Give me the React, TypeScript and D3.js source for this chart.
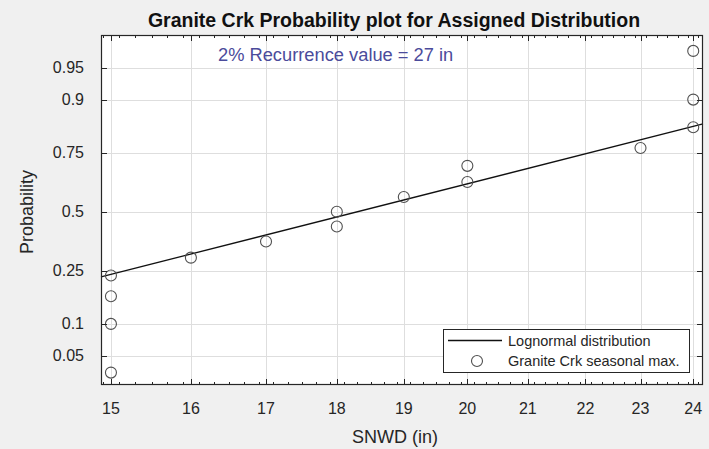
import React, { useEffect, useRef } from 'react';
import * as d3 from 'd3';

// seasonal max snow depth (in) and their plotting positions
const snowDepth = [15, 15, 15, 15, 16, 17, 18, 18, 19, 20, 20, 23, 24, 24, 24];
const plotProb = [0.033, 0.1, 0.167, 0.233, 0.3, 0.367, 0.433, 0.5, 0.567, 0.633, 0.7, 0.767, 0.833, 0.9, 0.967];

// fitted lognormal (median in inches, log std)
const fitMedian = 18.3;
const fitSigma = 0.278;

const probTicks = [0.05, 0.1, 0.25, 0.5, 0.75, 0.9, 0.95];
const xTicks = [15, 16, 17, 18, 19, 20, 21, 22, 23, 24];
const legendItems = ['Lognormal distribution', 'Granite Crk seasonal max.'];

// inverse normal cdf (Acklam)
function probit(p: number) {
  const a = [-39.69683028665376, 220.9460984245205, -275.9285104469687, 138.357751867269, -30.66479806614716, 2.506628277459239];
  const b = [-54.47609879822406, 161.5858368580409, -155.6989798598866, 66.80131188771972, -13.28068155288572];
  const c = [-0.007784894002430293, -0.3223964580411365, -2.400758277161838, -2.549732539343734, 4.374664141464968, 2.938163982698783];
  const d = [0.007784695709041462, 0.3224671290700398, 2.445134137142996, 3.754408661907416];
  const pl = 0.02425;
  if (p < pl) {
    const q = Math.sqrt(-2 * Math.log(p));
    return (((((c[0] * q + c[1]) * q + c[2]) * q + c[3]) * q + c[4]) * q + c[5]) / ((((d[0] * q + d[1]) * q + d[2]) * q + d[3]) * q + 1);
  }
  if (p > 1 - pl) {
    const q = Math.sqrt(-2 * Math.log(1 - p));
    return -(((((c[0] * q + c[1]) * q + c[2]) * q + c[3]) * q + c[4]) * q + c[5]) / ((((d[0] * q + d[1]) * q + d[2]) * q + d[3]) * q + 1);
  }
  const q = p - 0.5;
  const r = q * q;
  return (((((a[0] * r + a[1]) * r + a[2]) * r + a[3]) * r + a[4]) * r + a[5]) * q / (((((b[0] * r + b[1]) * r + b[2]) * r + b[3]) * r + b[4]) * r + 1);
}

export default function App() {
  const ref = useRef<SVGSVGElement>(null);

  useEffect(() => {
    const W = 709, H = 449;
    const left = 101, right = 703, top = 35, bottom = 385;
    const font = 'Liberation Sans, Arial, sans-serif';
    const ink = '#262626';

    const svg = d3.select(ref.current);
    svg.selectAll('*').remove();

    svg.append('rect').attr('width', W).attr('height', H).attr('fill', '#f0f0f0');

    const x = d3.scaleLog().domain([14.88, 24.19]).range([left, right]);
    const y = d3.scaleLinear().domain([-1.98, 2.02]).range([bottom, top]);

    svg.append('rect')
      .attr('x', left).attr('y', top)
      .attr('width', right - left).attr('height', bottom - top)
      .attr('fill', '#fff');

    // grid
    const grid = svg.append('g').attr('stroke', '#dedede').attr('stroke-width', 1);
    grid.selectAll('line.v').data(xTicks).enter().append('line')
      .attr('x1', d => Math.round(x(d)) + 0.5).attr('x2', d => Math.round(x(d)) + 0.5)
      .attr('y1', top).attr('y2', bottom);
    grid.selectAll('line.h').data(probTicks).enter().append('line')
      .attr('y1', d => Math.round(y(probit(d))) + 0.5).attr('y2', d => Math.round(y(probit(d))) + 0.5)
      .attr('x1', left).attr('x2', right);

    // fitted line
    const mu = Math.log(fitMedian);
    const fitZ = (v: number) => (Math.log(v) - mu) / fitSigma;
    const lineGen = d3.line<number>().x(d => x(d)).y(d => y(fitZ(d)));
    svg.append('path')
      .datum(x.domain())
      .attr('d', lineGen)
      .attr('fill', 'none')
      .attr('stroke', '#111')
      .attr('stroke-width', 1.3);

    // points
    svg.append('g').selectAll('circle')
      .data(snowDepth.map((v, i) => ({ v, p: plotProb[i] })))
      .enter().append('circle')
      .attr('cx', d => x(d.v))
      .attr('cy', d => y(probit(d.p)))
      .attr('r', 5.5)
      .attr('fill', 'none')
      .attr('stroke', '#505050')
      .attr('stroke-width', 1.1);

    // ticks
    const minor = d3.range(149, 243, 2).map(v => v / 10).filter(v => v >= 14.88 && v <= 24.19 && !xTicks.includes(v));
    const tk = svg.append('g').attr('stroke', ink).attr('stroke-width', 1);
    xTicks.forEach(t => {
      const px = Math.round(x(t)) + 0.5;
      tk.append('line').attr('x1', px).attr('x2', px).attr('y1', bottom).attr('y2', bottom - 6);
      tk.append('line').attr('x1', px).attr('x2', px).attr('y1', top).attr('y2', top + 6);
    });
    minor.forEach(t => {
      const px = Math.round(x(t)) + 0.5;
      tk.append('line').attr('x1', px).attr('x2', px).attr('y1', bottom).attr('y2', bottom - 3);
      tk.append('line').attr('x1', px).attr('x2', px).attr('y1', top).attr('y2', top + 3);
    });
    probTicks.forEach(t => {
      const py = Math.round(y(probit(t))) + 0.5;
      tk.append('line').attr('x1', left).attr('x2', left + 6).attr('y1', py).attr('y2', py);
      tk.append('line').attr('x1', right).attr('x2', right - 6).attr('y1', py).attr('y2', py);
    });

    // axes box
    svg.append('rect')
      .attr('x', left + 0.5).attr('y', top + 0.5)
      .attr('width', right - left - 1).attr('height', bottom - top - 1)
      .attr('fill', 'none').attr('stroke', ink).attr('stroke-width', 1.2);

    // tick labels
    svg.append('g').selectAll('text').data(xTicks).enter().append('text')
      .attr('x', d => x(d)).attr('y', 414)
      .attr('text-anchor', 'middle')
      .attr('font-family', font).attr('font-size', 16).attr('fill', ink)
      .text(d => d);
    svg.append('g').selectAll('text').data(probTicks).enter().append('text')
      .attr('x', 84).attr('y', d => y(probit(d)) + 5.5)
      .attr('text-anchor', 'end')
      .attr('font-family', font).attr('font-size', 16).attr('fill', ink)
      .text(d => d);

    // labels
    svg.append('text')
      .attr('x', 395).attr('y', 443)
      .attr('text-anchor', 'middle')
      .attr('font-family', font).attr('font-size', 18).attr('fill', ink)
      .text('SNWD (in)');
    svg.append('text')
      .attr('transform', `translate(33, 212) rotate(-90)`)
      .attr('text-anchor', 'middle')
      .attr('font-family', font).attr('font-size', 18).attr('fill', ink)
      .text('Probability');
    svg.append('text')
      .attr('x', 394).attr('y', 27)
      .attr('text-anchor', 'middle')
      .attr('font-family', font).attr('font-size', 19.5).attr('font-weight', 'bold').attr('fill', '#111')
      .text('Granite Crk Probability plot for Assigned Distribution');
    svg.append('text')
      .attr('x', 218).attr('y', 61)
      .attr('font-family', font).attr('font-size', 18.3).attr('fill', '#4b4b9b')
      .text('2% Recurrence value = 27 in');

    // legend
    const lg = svg.append('g');
    lg.append('rect')
      .attr('x', 443.5).attr('y', 329.5).attr('width', 246).attr('height', 43)
      .attr('fill', '#fff').attr('stroke', ink).attr('stroke-width', 1);
    lg.append('line')
      .attr('x1', 448).attr('x2', 502).attr('y1', 340.5).attr('y2', 340.5)
      .attr('stroke', '#111').attr('stroke-width', 1.3);
    lg.append('circle')
      .attr('cx', 477).attr('cy', 361).attr('r', 5.5)
      .attr('fill', 'none').attr('stroke', '#505050').attr('stroke-width', 1.1);
    lg.selectAll('text').data(legendItems).enter().append('text')
      .attr('x', 508).attr('y', (d, i) => 346 + i * 20)
      .attr('font-family', font).attr('font-size', 14.5).attr('fill', ink)
      .text(d => d);
  }, []);

  return (
    <svg ref={ref} width={709} height={449} style={{ position: 'absolute', left: 0, top: 0 }} />
  );
}
